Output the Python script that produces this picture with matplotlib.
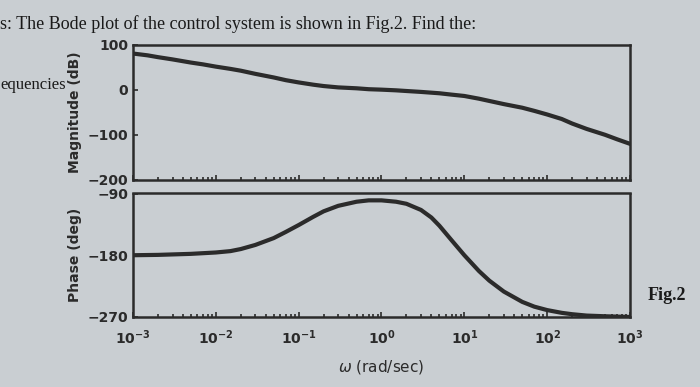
import numpy as np
import matplotlib.pyplot as plt

# values
mag_w = [1e-3, 1.5e-3, 2e-3, 3e-3, 5e-3, 7e-3, 1e-2, 1.5e-2, 2e-2, 3e-2, 5e-2, 7e-2, 1e-1,
         1.5e-1, 2e-1, 3e-1, 5e-1, 7e-1, 1, 1.5, 2, 3, 5, 7, 10, 15, 20, 30, 50, 70,
         100, 150, 200, 300, 500, 700, 1000]
mag_db = [80, 76, 72, 67, 60, 56, 51, 46, 42, 35, 27, 21, 16, 11, 8, 5, 3, 1, 0, -1.5, -3, -5,
          -8, -11, -14, -20, -25, -32, -40, -47, -55, -65, -75, -87, -100, -110, -120]

phase_w = [1e-3, 2e-3, 5e-3, 1e-2, 1.5e-2, 2e-2, 3e-2, 5e-2, 7e-2, 1e-1, 1.5e-1, 2e-1, 3e-1,
           5e-1, 7e-1, 1, 1.5, 2, 3, 4, 5, 7, 10, 15, 20, 30, 50, 70, 100, 150, 200, 300, 500, 1000]
phase_deg = [-180, -179.5, -178, -176, -174, -171, -165, -155, -146, -136, -124, -116, -108,
             -102, -100, -100, -102, -105, -114, -125, -137, -158, -180, -203, -217, -233,
             -248, -255, -260, -264, -266, -268, -269, -270]

xticks = [1e-3, 1e-2, 1e-1, 1e0, 1e1, 1e2, 1e3]
xticklabels = [r"$\mathbf{10^{-3}}$", r"$\mathbf{10^{-2}}$", r"$\mathbf{10^{-1}}$", r"$\mathbf{10^{0}}$",
               r"$\mathbf{10^{1}}$", r"$\mathbf{10^{2}}$", r"$\mathbf{10^{3}}$"]

bg = "#c9ced2"
ink = "#2b2b2b"

fig = plt.figure(figsize=(7, 3.87), dpi=100, facecolor=bg)

ax1 = fig.add_axes([0.19, 0.535, 0.71, 0.35], facecolor=bg)
ax2 = fig.add_axes([0.19, 0.181, 0.71, 0.319], facecolor=bg)

ax1.semilogx(mag_w, mag_db, color=ink, lw=3)
ax2.semilogx(phase_w, phase_deg, color=ink, lw=3)

ax1.set_ylim(-200, 100)
ax1.set_yticks([-200, -100, 0, 100])
ax2.set_ylim(-270, -90)
ax2.set_yticks([-270, -180, -90])

for ax in (ax1, ax2):
    ax.set_xlim(1e-3, 1e3)
    ax.set_xticks(xticks)
    ax.tick_params(which="both", direction="in", colors=ink, labelsize=10, width=1.2)
    for s in ax.spines.values():
        s.set_color(ink)
        s.set_linewidth(1.8)
    for t in ax.get_yticklabels():
        t.set_fontweight("bold")

ax1.set_xticklabels([])
ax2.set_xticklabels(xticklabels)
ax2.tick_params(axis="x", pad=8)

ax1.set_ylabel("Magnitude (dB)", fontweight="bold", fontsize=10, color=ink)
ax2.set_ylabel("Phase (deg)", fontweight="bold", fontsize=10, color=ink)
ax2.set_xlabel(r"$\omega$ (rad/sec)", fontsize=11, color=ink, labelpad=8)

fig.text(0.0, 0.925, "s: The Bode plot of the control system is shown in Fig.2. Find the:",
         family="Liberation Serif", fontsize=13, color="#1a1a1a")
fig.text(0.0, 0.77, "equencies", family="Liberation Serif", fontsize=12, color="#1a1a1a")
fig.text(0.925, 0.225, "Fig.2", family="Liberation Serif", fontsize=13, fontweight="bold", color="#1a1a1a")

fig.savefig("out.png", dpi=100, facecolor=bg)
